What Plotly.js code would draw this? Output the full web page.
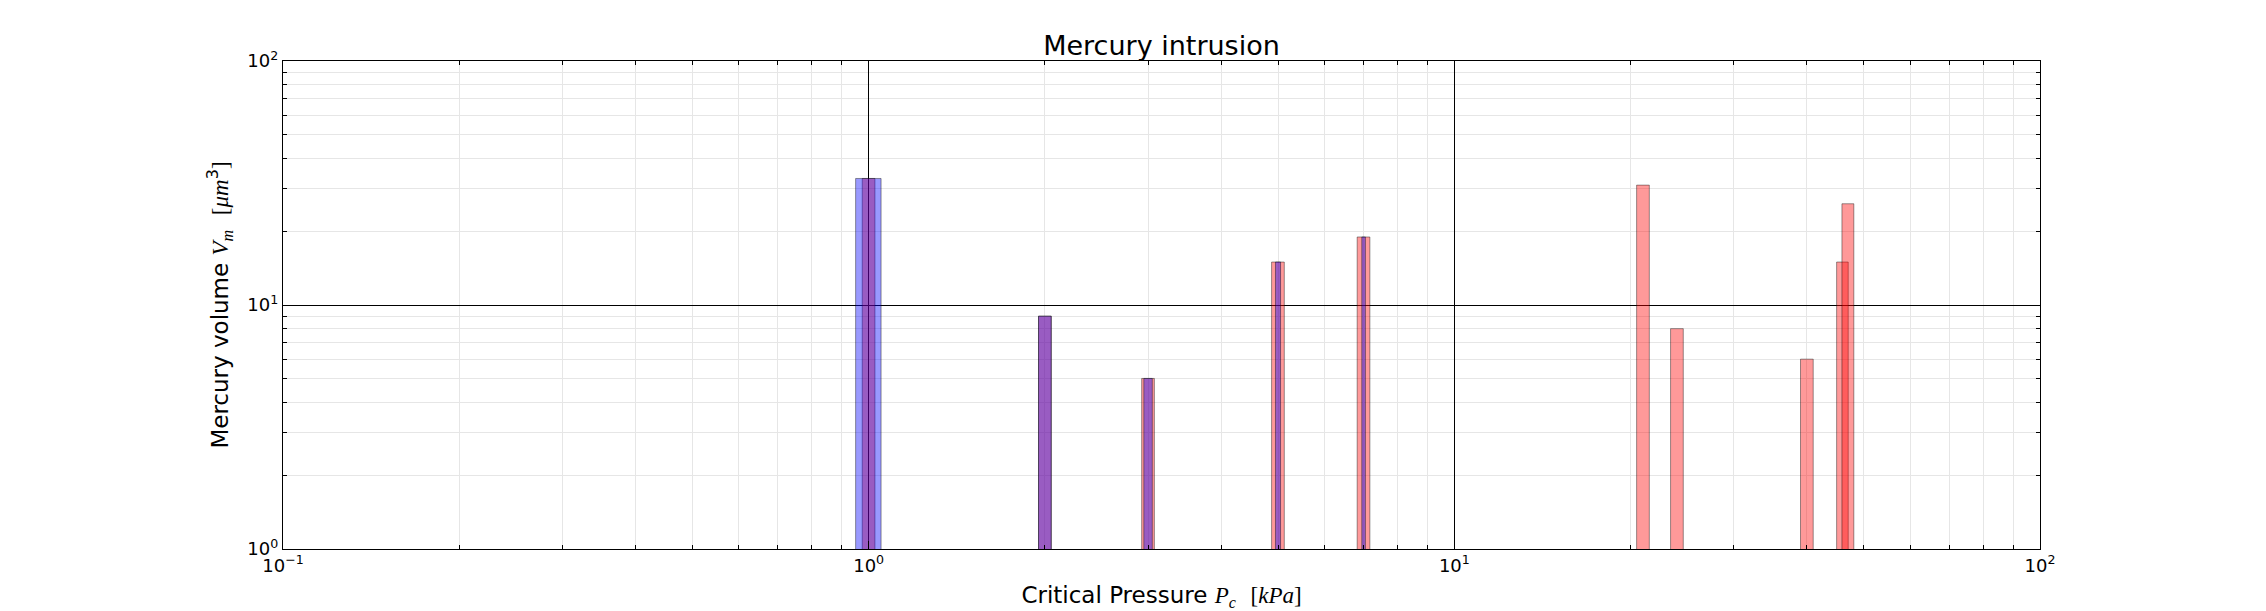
<!DOCTYPE html>
<html>
<head>
<meta charset="utf-8">
<script src="https://cdn.plot.ly/plotly-3.0.1.min.js"></script>
<style>html,body{margin:0;padding:0;background:#fff;}#chart{width:2266px;height:611px;}</style>
</head>
<body>
<div id="chart"></div>
<script>
// Red series (critical pressure kPa, volume µm^3, bar width)
const redX = [1, 2, 3, 5, 7, 21, 24, 40, 46, 47];
const redY = [33, 9, 5, 15, 19, 31, 8, 6, 15, 26];
const redW = [0.05, 0.1, 0.15, 0.25, 0.35, 1.05, 1.2, 2.0, 2.1, 2.2];
// Blue series
const blueX = [1, 2, 3, 5, 7];
const blueY = [33, 9, 5, 15, 19];
const blueW = [0.1, 0.1, 0.1, 0.1, 0.1];

const xTickVals = [0.1, 1, 10, 100];
const xTickText = ['10<sup>\u22121</sup>', '10<sup>0</sup>', '10<sup>1</sup>', '10<sup>2</sup>'];
const yTickVals = [1, 10, 100];
const yTickText = ['10<sup>0</sup>', '10<sup>1</sup>', '10<sup>2</sup>'];

const edge = {color: 'rgba(0,0,0,0.4)', width: 1};
const traces = [
  {type: 'bar', x: redX, y: redY, width: redW,
   marker: {color: 'rgba(255,0,0,0.4)', line: edge}, hoverinfo: 'x+y'},
  {type: 'bar', x: blueX, y: blueY, width: blueW,
   marker: {color: 'rgba(0,0,255,0.4)', line: edge}, hoverinfo: 'x+y'}
];

const math = 'font-family:Liberation Serif;font-style:italic';
const axisCommon = {
  type: 'log', showline: true, linecolor: 'black', linewidth: 1.2, mirror: 'allticks',
  ticks: 'inside', ticklen: 8, tickwidth: 1, tickcolor: 'black',
  showgrid: true, gridcolor: 'black', gridwidth: 1, zeroline: false,
  tickmode: 'array', tickfont: {family: 'DejaVu Sans', size: 18, color: 'black'},
  minor: {ticks: 'inside', ticklen: 4, tickcolor: 'black', showgrid: true, gridcolor: '#e6e6e6', gridwidth: 1, dtick: 'D1'}
};

const layout = {
  width: 2266, height: 611,
  margin: {l: 283, r: 226, t: 61, b: 62},
  paper_bgcolor: 'white', plot_bgcolor: 'white',
  showlegend: false, barmode: 'overlay', bargap: 0,
  font: {family: 'DejaVu Sans', color: 'black'},
  title: {text: 'Mercury intrusion', font: {size: 27, color: 'black'}, xref: 'paper', x: 0.5, xanchor: 'center',
          yref: 'paper', y: 1, yanchor: 'bottom', pad: {b: 6}},
  xaxis: Object.assign({}, axisCommon, {
    range: [-1, 2], tickvals: xTickVals, ticktext: xTickText,
    title: {text: 'Critical Pressure <span style="' + math + '">P</span><sub><span style="' + math + '">c</span></sub>  <span style="font-family:Liberation Serif">[</span><span style="' + math + '">kPa</span><span style="font-family:Liberation Serif">]</span>',
            font: {size: 23, color: 'black'}, standoff: 15}
  }),
  yaxis: Object.assign({}, axisCommon, {
    range: [0, 2], tickvals: yTickVals, ticktext: yTickText,
    title: {text: 'Mercury volume <span style="' + math + '">V</span><sub><span style="' + math + '">m</span></sub>  <span style="font-family:Liberation Serif">[</span><span style="' + math + '">\u03bcm</span><sup>3</sup><span style="font-family:Liberation Serif">]</span>',
            font: {size: 23, color: 'black'}, standoff: 12}
  })
};

Plotly.newPlot('chart', traces, layout, {staticPlot: true, displayModeBar: false});
</script>
</body>
</html>
